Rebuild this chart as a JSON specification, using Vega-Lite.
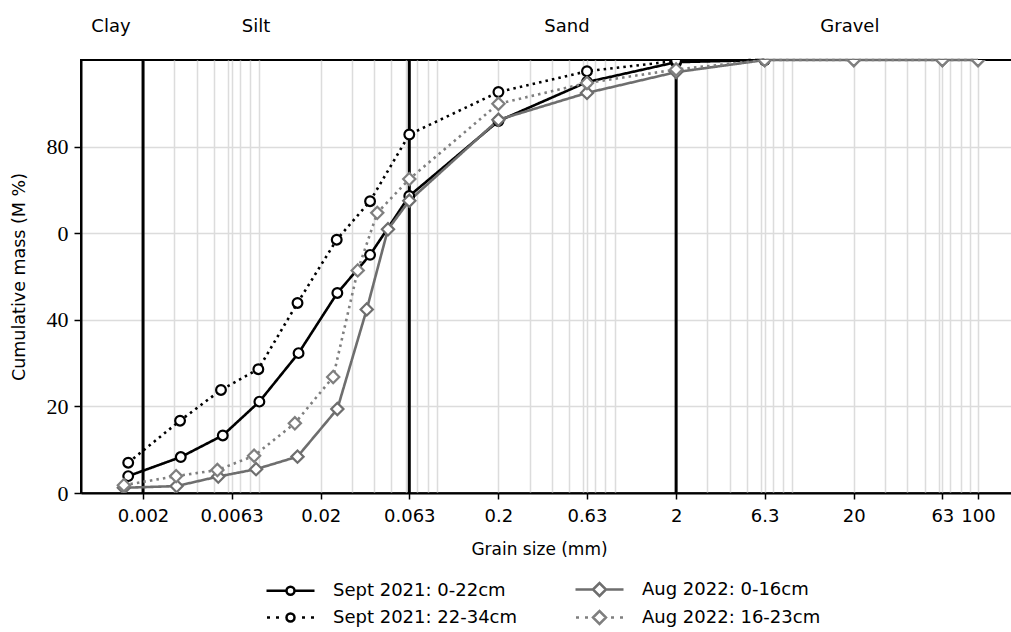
{
  "$schema": "https://vega.github.io/schema/vega-lite/v6.json",
  "width": 935,
  "height": 433,
  "autosize": "none",
  "padding": {"left": 81, "top": 60, "right": 0, "bottom": 139},
  "config": {
    "view": {"stroke": "black", "strokeWidth": 2},
    "font": "DejaVu Sans",
    "legend": {"padding": 0}
  },
  "datasets": {
    "psd": [
      {"series": "Sept 2021: 0-22cm", "size": 0.00165, "mass": 3.9},
      {"series": "Sept 2021: 0-22cm", "size": 0.00326, "mass": 8.3},
      {"series": "Sept 2021: 0-22cm", "size": 0.00562, "mass": 13.3},
      {"series": "Sept 2021: 0-22cm", "size": 0.00903, "mass": 21.1},
      {"series": "Sept 2021: 0-22cm", "size": 0.0150, "mass": 32.3},
      {"series": "Sept 2021: 0-22cm", "size": 0.0248, "mass": 46.2},
      {"series": "Sept 2021: 0-22cm", "size": 0.0379, "mass": 55.0},
      {"series": "Sept 2021: 0-22cm", "size": 0.063, "mass": 68.6},
      {"series": "Sept 2021: 0-22cm", "size": 0.2, "mass": 85.9},
      {"series": "Sept 2021: 0-22cm", "size": 0.63, "mass": 94.9},
      {"series": "Sept 2021: 0-22cm", "size": 2, "mass": 99.5},
      {"series": "Sept 2021: 0-22cm", "size": 6.3, "mass": 100},
      {"series": "Sept 2021: 22-34cm", "size": 0.00165, "mass": 7.0},
      {"series": "Sept 2021: 22-34cm", "size": 0.00323, "mass": 16.7},
      {"series": "Sept 2021: 22-34cm", "size": 0.00549, "mass": 23.8},
      {"series": "Sept 2021: 22-34cm", "size": 0.00891, "mass": 28.6},
      {"series": "Sept 2021: 22-34cm", "size": 0.0148, "mass": 43.9},
      {"series": "Sept 2021: 22-34cm", "size": 0.0246, "mass": 58.5},
      {"series": "Sept 2021: 22-34cm", "size": 0.0379, "mass": 67.4},
      {"series": "Sept 2021: 22-34cm", "size": 0.063, "mass": 82.8},
      {"series": "Sept 2021: 22-34cm", "size": 0.2, "mass": 92.6},
      {"series": "Sept 2021: 22-34cm", "size": 0.63, "mass": 97.4},
      {"series": "Sept 2021: 22-34cm", "size": 2, "mass": 99.8},
      {"series": "Sept 2021: 22-34cm", "size": 6.3, "mass": 100},
      {"series": "Aug 2022: 0-16cm", "size": 0.00156, "mass": 1.2},
      {"series": "Aug 2022: 0-16cm", "size": 0.00309, "mass": 1.6},
      {"series": "Aug 2022: 0-16cm", "size": 0.00530, "mass": 3.8},
      {"series": "Aug 2022: 0-16cm", "size": 0.00865, "mass": 5.5},
      {"series": "Aug 2022: 0-16cm", "size": 0.0148, "mass": 8.4},
      {"series": "Aug 2022: 0-16cm", "size": 0.0248, "mass": 19.4},
      {"series": "Aug 2022: 0-16cm", "size": 0.0363, "mass": 42.4},
      {"series": "Aug 2022: 0-16cm", "size": 0.0478, "mass": 60.9},
      {"series": "Aug 2022: 0-16cm", "size": 0.063, "mass": 67.5},
      {"series": "Aug 2022: 0-16cm", "size": 0.2, "mass": 86.2},
      {"series": "Aug 2022: 0-16cm", "size": 0.63, "mass": 92.4},
      {"series": "Aug 2022: 0-16cm", "size": 2, "mass": 97.2},
      {"series": "Aug 2022: 0-16cm", "size": 6.3, "mass": 100},
      {"series": "Aug 2022: 0-16cm", "size": 20, "mass": 100},
      {"series": "Aug 2022: 0-16cm", "size": 63, "mass": 100},
      {"series": "Aug 2022: 0-16cm", "size": 100, "mass": 100},
      {"series": "Aug 2022: 16-23cm", "size": 0.00156, "mass": 1.8},
      {"series": "Aug 2022: 16-23cm", "size": 0.00307, "mass": 3.9},
      {"series": "Aug 2022: 16-23cm", "size": 0.00524, "mass": 5.3},
      {"series": "Aug 2022: 16-23cm", "size": 0.00843, "mass": 8.6},
      {"series": "Aug 2022: 16-23cm", "size": 0.0143, "mass": 16.1},
      {"series": "Aug 2022: 16-23cm", "size": 0.0235, "mass": 26.8},
      {"series": "Aug 2022: 16-23cm", "size": 0.0323, "mass": 51.4},
      {"series": "Aug 2022: 16-23cm", "size": 0.0416, "mass": 64.7},
      {"series": "Aug 2022: 16-23cm", "size": 0.063, "mass": 72.5},
      {"series": "Aug 2022: 16-23cm", "size": 0.2, "mass": 89.9},
      {"series": "Aug 2022: 16-23cm", "size": 0.63, "mass": 94.7},
      {"series": "Aug 2022: 16-23cm", "size": 2, "mass": 97.8},
      {"series": "Aug 2022: 16-23cm", "size": 6.3, "mass": 100},
      {"series": "Aug 2022: 16-23cm", "size": 20, "mass": 100},
      {"series": "Aug 2022: 16-23cm", "size": 63, "mass": 100},
      {"series": "Aug 2022: 16-23cm", "size": 100, "mass": 100}
    ],
    "bounds": [
      {"size": 0.002},
      {"size": 0.063},
      {"size": 2}
    ],
    "classes": [
      {"label": "Clay", "size": 0.00132},
      {"label": "Silt", "size": 0.00865},
      {"label": "Sand", "size": 0.486},
      {"label": "Gravel", "size": 19.0}
    ]
  },
  "layer": [
    {
      "data": {"name": "bounds"},
      "mark": {"type": "rule", "color": "black", "strokeWidth": 3},
      "encoding": {
        "x": {
          "field": "size",
          "type": "quantitative",
          "scale": {"type": "log", "domain": [0.000895, 163.6], "nice": false},
          "axis": {
            "values": [0.002,0.003,0.004,0.005,0.006,0.0063,0.007,0.008,0.009,0.02,0.03,0.04,0.05,0.06,0.063,0.07,0.08,0.09,0.2,0.3,0.4,0.5,0.6,0.63,0.7,0.8,0.9,2,3,4,5,6,6.3,7,8,9,20,30,40,50,60,63,70,80,90,100],
            "grid": true,
            "gridColor": "#dcdcdc",
            "gridWidth": 1.5,
            "domainColor": "black",
            "domainWidth": 2,
            "tickColor": "black",
            "tickWidth": 1.5,
            "tickSize": 6,
            "tickOpacity": {"condition": {"test": "datum.value == 0.002 || datum.value == 0.0063 || datum.value == 0.02 || datum.value == 0.063 || datum.value == 0.2 || datum.value == 0.63 || datum.value == 2 || datum.value == 6.3 || datum.value == 20 || datum.value == 63 || datum.value == 100", "value": 1}, "value": 0},
            "labelExpr": "datum.value == 0.002 ? '0.002' : datum.value == 0.0063 ? '0.0063' : datum.value == 0.02 ? '0.02' : datum.value == 0.063 ? '0.063' : datum.value == 0.2 ? '0.2' : datum.value == 0.63 ? '0.63' : datum.value == 2 ? '2' : datum.value == 6.3 ? '6.3' : datum.value == 20 ? '20' : datum.value == 63 ? '63' : datum.value == 100 ? '100' : ''",
            "labelFont": "DejaVu Sans",
            "labelFontSize": 18,
            "labelColor": "black",
            "labelPadding": 8,
            "labelOverlap": false,
            "labelFlush": false,
            "labelBound": false,
            "title": "Grain size (mm)",
            "titleFont": "DejaVu Sans",
            "titleFontSize": 17,
            "titleFontWeight": "normal",
            "titleColor": "black",
            "titlePadding": 16,
            "titleX": 458
          }
        }
      }
    },
    {
      "data": {"name": "psd"},
      "mark": {"type": "line", "strokeWidth": 2.6, "strokeCap": "butt"},
      "encoding": {
        "x": {"field": "size", "type": "quantitative"},
        "y": {
          "field": "mass",
          "type": "quantitative",
          "scale": {"domain": [0, 100], "nice": false},
          "axis": {
            "values": [0, 20, 40, 60, 80],
            "labelExpr": "datum.value == 60 ? '0' : datum.label",
            "grid": true,
            "gridColor": "#dcdcdc",
            "gridWidth": 1.5,
            "domainColor": "black",
            "domainWidth": 2,
            "tickColor": "black",
            "tickWidth": 1.5,
            "tickSize": 7,
            "labelFont": "Liberation Serif",
            "labelFontSize": 22,
            "labelColor": "black",
            "labelPadding": 6,
            "title": "Cumulative mass (M %)",
            "titleFont": "DejaVu Sans",
            "titleFontSize": 17.5,
            "titleFontWeight": "normal",
            "titleColor": "black",
            "titlePadding": 18
          }
        },
        "stroke": {
          "field": "series",
          "type": "nominal",
          "scale": {
            "domain": ["Aug 2022: 0-16cm", "Aug 2022: 16-23cm", "Sept 2021: 0-22cm", "Sept 2021: 22-34cm"],
            "range": ["#6e6e6e", "#7f7f7f", "#000000", "#000000"]
          },
          "legend": null
        },
        "strokeDash": {
          "field": "series",
          "type": "nominal",
          "scale": {
            "domain": ["Aug 2022: 0-16cm", "Aug 2022: 16-23cm", "Sept 2021: 0-22cm", "Sept 2021: 22-34cm"],
            "range": [[1, 0], [2.5, 4.1], [1, 0], [2.5, 4.1]]
          },
          "legend": null
        }
      }
    },
    {
      "data": {"name": "psd"},
      "transform": [{"filter": "datum.series == 'Sept 2021: 0-22cm' || datum.series == 'Sept 2021: 22-34cm'"}],
      "mark": {"type": "point", "shape": "circle", "size": 95, "fill": "white", "fillOpacity": 1, "opacity": 1, "strokeWidth": 2.2, "clip": true},
      "encoding": {
        "x": {"field": "size", "type": "quantitative"},
        "y": {"field": "mass", "type": "quantitative"},
        "stroke": {"field": "series", "type": "nominal", "legend": null}
      }
    },
    {
      "data": {"name": "psd"},
      "transform": [{"filter": "datum.series == 'Aug 2022: 0-16cm' || datum.series == 'Aug 2022: 16-23cm'"}],
      "mark": {"type": "point", "shape": "diamond", "size": 150, "fill": "white", "fillOpacity": 1, "opacity": 1, "strokeWidth": 2.2, "clip": true},
      "encoding": {
        "x": {"field": "size", "type": "quantitative"},
        "y": {"field": "mass", "type": "quantitative"},
        "stroke": {"field": "series", "type": "nominal", "legend": null}
      }
    },
    {
      "data": {"name": "psd"},
      "transform": [{"filter": "datum.mass < 0"}],
      "mark": {"type": "point", "opacity": 1, "strokeWidth": 2.5, "filled": false},
      "encoding": {
        "x": {"field": "size", "type": "quantitative"},
        "y": {"field": "mass", "type": "quantitative"},
        "shape": {
          "field": "series",
          "type": "nominal",
          "scale": {
            "domain": ["Sept 2021: 0-22cm", "Aug 2022: 0-16cm", "Sept 2021: 22-34cm", "Aug 2022: 16-23cm"],
            "range": [
              "M-1,0L1,0M1.8,0L3.8,0M1,0A0.4,0.4,0,1,1,1.8,0A0.4,0.4,0,1,1,1,0Z",
              "M-1,0L0.75,0M2.05,0L3.8,0M0.75,0L1.4,-0.65L2.05,0L1.4,0.65Z",
              "M-0.95,0L-0.65,0M-0.05,0L0.25,0M2.55,0L2.85,0M3.45,0L3.75,0M1,0A0.4,0.4,0,1,1,1.8,0A0.4,0.4,0,1,1,1,0Z",
              "M-0.95,0L-0.65,0M-0.05,0L0.25,0M2.55,0L2.85,0M3.45,0L3.75,0M0.75,0L1.4,-0.65L2.05,0L1.4,0.65Z"
            ]
          },
          "legend": {
            "orient": "none",
            "legendX": 184,
            "legendY": 518,
            "direction": "horizontal",
            "columns": 2,
            "columnPadding": 52,
            "rowPadding": 5,
            "title": null,
            "symbolSize": 400,
            "symbolStrokeWidth": 2.5,
            "symbolOpacity": 1,
            "labelOffset": 45,
            "labelFont": "DejaVu Sans",
            "labelFontSize": 18,
            "labelColor": "black",
            "labelLimit": 400
          }
        },
        "color": {
          "field": "series",
          "type": "nominal",
          "scale": {
            "domain": ["Sept 2021: 0-22cm", "Aug 2022: 0-16cm", "Sept 2021: 22-34cm", "Aug 2022: 16-23cm"],
            "range": ["#000000", "#6e6e6e", "#000000", "#7f7f7f"]
          },
          "legend": {
            "orient": "none",
            "legendX": 184,
            "legendY": 518,
            "direction": "horizontal",
            "columns": 2,
            "columnPadding": 52,
            "rowPadding": 5,
            "title": null,
            "symbolSize": 400,
            "symbolStrokeWidth": 2.5,
            "symbolOpacity": 1,
            "labelOffset": 45,
            "labelFont": "DejaVu Sans",
            "labelFontSize": 18,
            "labelColor": "black",
            "labelLimit": 400
          }
        }
      }
    },
    {
      "data": {"name": "classes"},
      "mark": {"type": "text", "font": "DejaVu Sans", "fontSize": 18, "color": "black", "align": "center", "baseline": "middle"},
      "encoding": {
        "x": {"field": "size", "type": "quantitative"},
        "y": {"datum": 107.6},
        "text": {"field": "label"}
      }
    }
  ]
}
